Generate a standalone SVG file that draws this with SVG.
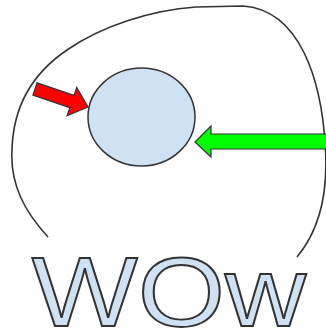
<svg xmlns="http://www.w3.org/2000/svg" width="326" height="333" viewBox="0 0 326 333">
<style>
.ln{fill:none;stroke:#333;stroke-width:1.6}
.blob{fill:#cfe2f3;stroke:#333;stroke-width:1.5}
.arr{stroke:#333;stroke-width:1.2;stroke-linejoin:miter}
.txt{font-family:"Liberation Sans",Arial,sans-serif;font-size:98px;fill:#cfe2f3;stroke:#333;stroke-width:1.8}
</style>
<rect width="326" height="333" fill="#fff"/>
<g id="boundary">
<path class="ln" d="M48,237 C25,212 10,185 12,150 C13,110 30,75 67,50 C100,27 150,10 196,7 L243,6 C300,10 322,80 325.5,150 C328,195 318,232 297,257"/>
</g>
<g id="cell">
<ellipse class="blob" cx="141.5" cy="117" rx="53.5" ry="49"/>
</g>
<g id="connectors">
<polygon id="red-arrow" class="arr" fill="#ff0000" transform="translate(35,89) rotate(18.8)" points="0,-6.5 39,-6.5 39,-15 56,0 39,15 39,6.5 0,6.5"/>
<polygon id="green-arrow" class="arr" fill="#00ff00" points="195,142 211,126 211,134 330,134 330,149 211,149 211,157"/>
</g>
<g id="label">
<text class="txt" transform="translate(33,326) scale(1.145,1)" x="-1" y="0">WOw</text>
</g>
</svg>
